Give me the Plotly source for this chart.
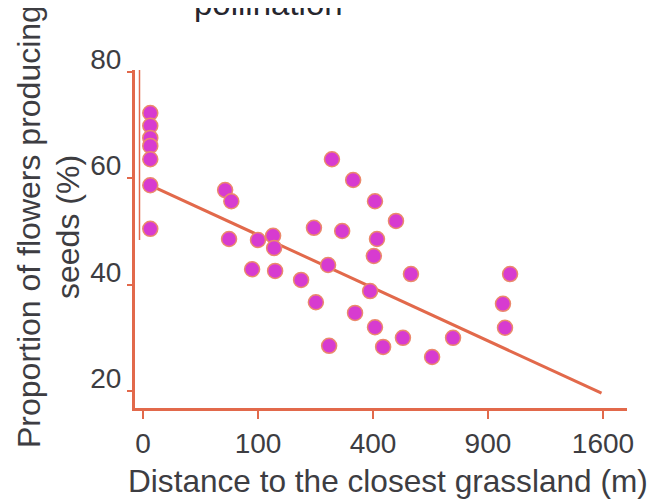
import numpy as np
import plotly.graph_objects as go

# Distance to the closest grassland (m) and proportion of flowers producing seeds (%)
distance_m = [0.4, 0.4, 0.4, 0.4, 0.4, 0.4, 0.4,
              51, 59, 56, 100, 128, 130, 90, 132, 189,
              270, 334, 407, 484, 221, 300, 414, 403, 259, 543,
              390, 226, 340, 407, 262, 436, 511, 632, 727,
              1019, 980, 991]
seeds_pct = [72.3, 69.9, 67.6, 66.1, 63.6, 58.7, 50.5,
             57.8, 55.7, 48.6, 48.4, 49.2, 46.9, 42.9, 42.6, 40.9,
             63.6, 59.7, 55.7, 52.0, 50.7, 50.1, 48.6, 45.4, 43.7, 42.0,
             38.8, 36.7, 34.7, 32.0, 28.5, 28.3, 30.0, 26.4, 30.0,
             42.0, 36.4, 31.9]

# Fitted trend line end points
trend_x = [0.4, 1590]
trend_y = [58.7, 19.6]

x_ticks = [0, 100, 400, 900, 1600]
y_ticks = [20, 40, 60, 80]

title_text = "pollination"
x_title = "Distance to the closest grassland (m)"
y_title_lines = ["Proportion of flowers producing", "seeds (%)"]

ORANGE = "#e2694b"
MAGENTA = "#d73bd0"
TEXT = "#3d3d42"
FONT = "Arial, Liberation Sans, Helvetica, sans-serif"

# page body has an 8px default margin; compensate
OFF = 8
FW, FH = 658 - OFF, 503 - OFF

fig = go.Figure()
fig.add_trace(go.Scatter(
    x=np.sqrt(trend_x), y=trend_y, mode="lines",
    line=dict(color=ORANGE, width=3), hoverinfo="skip", showlegend=False))
fig.add_trace(go.Scatter(
    x=np.sqrt(distance_m), y=seeds_pct, mode="markers",
    marker=dict(color=MAGENTA, size=15, line=dict(color="#eb8a6c", width=1.5)),
    showlegend=False))

L, T, W, H = 135 - OFF, 70 - OFF, 492, 338
fig.update_layout(
    width=FW, height=FH,
    margin=dict(l=L, r=FW - L - W, t=T, b=FH - T - H, pad=0),
    paper_bgcolor="white", plot_bgcolor="white",
    font=dict(family=FONT, color=TEXT),
    showlegend=False,
)
fig.update_xaxes(
    range=[-0.696, 42.09], tickvals=np.sqrt(x_ticks), ticktext=[str(t) for t in x_ticks],
    showline=True, linecolor=ORANGE, linewidth=3, showgrid=False, zeroline=False,
    ticks="outside", ticklen=8, tickwidth=2, tickcolor=ORANGE,
    tickfont=dict(size=28, color=TEXT, family=FONT),
)
fig.update_yaxes(
    range=[16.81, 80.38], tickvals=y_ticks, ticktext=[str(t) for t in y_ticks],
    showline=True, linecolor=ORANGE, linewidth=3, showgrid=False, zeroline=False,
    ticks="outside", ticklen=5, tickwidth=2, tickcolor=ORANGE,
    tickfont=dict(size=28, color=TEXT, family=FONT),
    ticklabelshift=-13, ticklabelstandoff=0,
)

def px_x(p):
    return (p - OFF - L) / W

def px_y(p):
    return (T + H - (p - OFF)) / H

fig.add_annotation(text=title_text, xref="paper", yref="paper",
                   x=px_x(268), y=px_y(24), xanchor="center", yanchor="bottom",
                   showarrow=False, font=dict(size=33, color="#26262e", family=FONT))
fig.add_annotation(text=x_title, xref="paper", yref="paper",
                   x=px_x(388), y=px_y(481), xanchor="center", yanchor="middle",
                   showarrow=False, font=dict(size=31.6, color=TEXT, family=FONT))
for line_text, cx in zip(y_title_lines, [29, 68]):
    fig.add_annotation(text=line_text, xref="paper", yref="paper",
                       x=px_x(cx), y=px_y(227), xanchor="center", yanchor="middle",
                       textangle=-90, showarrow=False,
                       font=dict(size=32, color=TEXT, family=FONT))

fig.add_shape(type="line", xref="paper", yref="paper",
              x0=px_x(139.5), x1=px_x(139.5), y0=px_y(70), y1=px_y(240),
              line=dict(color=ORANGE, width=1.5))

fig.write_html("out.html")
